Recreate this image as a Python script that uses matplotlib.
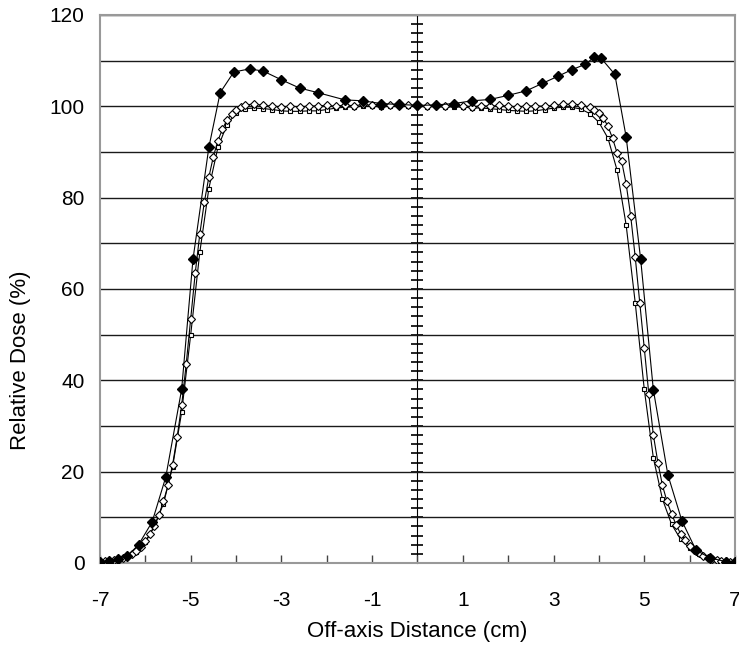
"""Relative dose vs off-axis distance profile
"""

import matplotlib
matplotlib.use("Agg")
import matplotlib.pyplot as plt

plt.rcParams['font.family'] = ['Liberation Sans', 'DejaVu Sans']
plt.rcParams['axes.unicode_minus'] = False

# filled diamonds (profile with horns)
x_filled = [-7.0, -6.8, -6.6, -6.4, -6.15, -5.85, -5.55, -5.2, -4.95, -4.6, -4.35, -4.05,
            -3.7, -3.4, -3.0, -2.6, -2.2, -1.6, -1.2, -0.8, -0.4, 0.0, 0.4, 0.8, 1.2, 1.6,
            2.0, 2.4, 2.75, 3.1, 3.4, 3.7, 3.9, 4.05, 4.35, 4.6, 4.92, 5.2, 5.52, 5.83,
            6.14, 6.45, 6.8, 7.0]
y_filled = [0.3, 0.5, 0.8, 1.5, 4.0, 9.0, 18.8, 38.0, 66.5, 91.0, 103.0, 107.5,
            108.2, 107.7, 105.8, 104.0, 103.0, 101.4, 101.2, 100.6, 100.4, 100.2, 100.3, 100.6, 101.2, 101.5,
            102.4, 103.4, 105.0, 106.6, 108.0, 109.2, 110.8, 110.5, 107.0, 93.3, 66.5, 37.9, 19.3, 9.2,
            2.8, 1.1, 0.3, 0.2]

# open diamonds (flat profile)
x_diam = [-7.0, -6.9, -6.8, -6.7, -6.6, -6.5, -6.4, -6.3, -6.2, -6.1, -6.0, -5.9, -5.8, -5.7,
          -5.6, -5.5, -5.4, -5.3, -5.2, -5.1, -5.0, -4.9, -4.8, -4.7, -4.6, -4.5, -4.4, -4.3,
          -4.2, -4.1, -4.0, -3.9, -3.8, -3.6, -3.4, -3.2, -3.0, -2.8, -2.6, -2.4, -2.2, -2.0,
          -1.8, -1.6, -1.4, -1.2, -1.0, -0.8, -0.6, -0.4, -0.2, 0.0,
          0.2, 0.4, 0.6, 0.8, 1.0, 1.2, 1.4, 1.6, 1.8, 2.0, 2.2, 2.4, 2.6, 2.8, 3.0, 3.2,
          3.4, 3.6, 3.8, 3.9, 4.0, 4.1, 4.2, 4.3, 4.4, 4.5, 4.6, 4.7, 4.8, 4.9, 5.0, 5.1,
          5.2, 5.3, 5.4, 5.5, 5.6, 5.7, 5.8, 5.9, 6.0, 6.1, 6.2, 6.3, 6.4, 6.5, 6.6, 6.7,
          6.8, 6.9, 7.0]
y_diam = [0.3, 0.4, 0.5, 0.6, 0.8, 1.1, 1.5, 2.0, 2.7, 3.6, 4.8, 6.3, 8.2, 10.6,
          13.5, 17.0, 21.5, 27.5, 34.5, 43.5, 53.5, 63.5, 72.0, 79.0, 84.5, 89.0, 92.5, 95.0,
          97.0, 98.3, 99.2, 99.8, 100.3, 100.5, 100.2, 100.0, 99.9, 100.0, 99.9, 100.0, 100.1, 100.2,
          100.0, 100.3, 100.1, 100.4, 100.2, 100.0, 100.3, 100.1, 100.2, 100.0,
          100.1, 100.2, 100.0, 100.2, 100.1, 99.9, 100.1, 100.0, 100.2, 100.0, 99.9, 100.0, 100.1, 100.0, 100.2, 100.4,
          100.5, 100.3, 99.8, 99.3, 98.6, 97.4, 95.6, 93.0, 89.8, 88.0, 83.0, 76.0, 67.0, 57.0, 47.0, 37.0,
          28.0, 22.0, 17.0, 13.5, 10.8, 8.4, 6.4, 5.0, 3.7, 2.8, 2.1, 1.6, 1.2, 0.9, 0.7, 0.5,
          0.4, 0.3, 0.3]

# open squares (flat profile, slight dip)
x_sq = [-7.0, -6.8, -6.6, -6.4, -6.2, -6.0, -5.8, -5.6, -5.4, -5.2, -5.0, -4.8, -4.6, -4.4,
        -4.2, -4.0, -3.8, -3.6, -3.4, -3.2, -3.0, -2.8, -2.6, -2.4, -2.2, -2.0, -1.8, -1.6,
        -1.4, -1.2, -1.0, -0.8, -0.6, -0.4, -0.2, 0.0, 0.2, 0.4, 0.6, 0.8, 1.0, 1.2, 1.4,
        1.6, 1.8, 2.0, 2.2, 2.4, 2.6, 2.8, 3.0, 3.2, 3.4, 3.6, 3.8, 4.0, 4.2, 4.4, 4.6,
        4.8, 5.0, 5.2, 5.4, 5.6, 5.8, 6.0, 6.2, 6.4, 6.6, 6.8, 7.0]
y_sq = [0.2, 0.4, 0.7, 1.3, 2.5, 4.5, 8.0, 13.0, 21.0, 33.0, 50.0, 68.0, 82.0, 91.0,
        96.0, 98.5, 99.5, 99.6, 99.5, 99.3, 99.0, 98.9, 98.9, 99.0, 99.0, 99.3, 99.6, 99.8,
        99.9, 100.0, 100.0, 99.9, 100.0, 100.0, 100.0, 100.0, 99.9, 100.0, 99.8, 99.9, 99.8, 99.7, 99.6,
        99.5, 99.3, 99.1, 99.0, 98.9, 99.0, 99.3, 99.6, 99.8, 99.8, 99.4, 98.4, 96.5, 93.0, 86.0, 74.0,
        57.0, 38.0, 23.0, 14.0, 8.5, 5.2, 3.2, 1.9, 1.1, 0.6, 0.3, 0.2]

x_ticks = [-7, -5, -3, -1, 1, 3, 5, 7]
y_ticks = [0, 20, 40, 60, 80, 100, 120]

fig = plt.figure(figsize=(7.39, 6.48), dpi=100)
ax = fig.add_axes([0.1353, 0.1312, 0.8593, 0.8457])

ax.plot(x_sq, y_sq, '-', color='black', lw=0.8, marker='s', ms=3,
        mfc='white', mec='black', mew=0.8, zorder=3)
ax.plot(x_diam, y_diam, '-', color='black', lw=0.8, marker='D', ms=4,
        mfc='white', mec='black', mew=0.8, zorder=4)
ax.plot(x_filled, y_filled, '-', color='black', lw=0.8, marker='D', ms=5,
        mfc='black', mec='black', zorder=5)

ax.set_xlim(-7, 7)
ax.set_ylim(0, 120)
ax.set_xticks(x_ticks)
ax.set_xticks(range(-7, 8), minor=True)
ax.set_yticks(y_ticks)
ax.set_yticks(range(0, 121, 10), minor=True)
ax.yaxis.grid(True, which='both', color='#1a1a1a', lw=1.0)
ax.set_axisbelow(True)

ax.tick_params(axis='x', which='both', direction='in', length=6, width=1,
               color='#444444', labelsize=15, pad=20)
ax.tick_params(axis='y', which='both', length=0, labelsize=15, pad=11)

for s in ax.spines.values():
    s.set_color('#999999')
    s.set_linewidth(1.5)

# y axis crossing at x = 0 with cross ticks every 2
mid = ax.secondary_yaxis(0.5)
mid.set_yticks(range(0, 121, 2))
mid.set_yticklabels([])
mid.tick_params(direction='inout', length=8, width=1.2, color='black',
                labelleft=False, labelright=False)
mid.spines['left'].set_color('black')
mid.spines['left'].set_linewidth(1.2)

ax.set_xlabel("Off-axis Distance (cm)", fontsize=16, labelpad=8)
ax.set_ylabel("Relative Dose (%)", fontsize=16)
ax.yaxis.set_label_coords(-0.108, 0.37)

plt.savefig("out.png")
